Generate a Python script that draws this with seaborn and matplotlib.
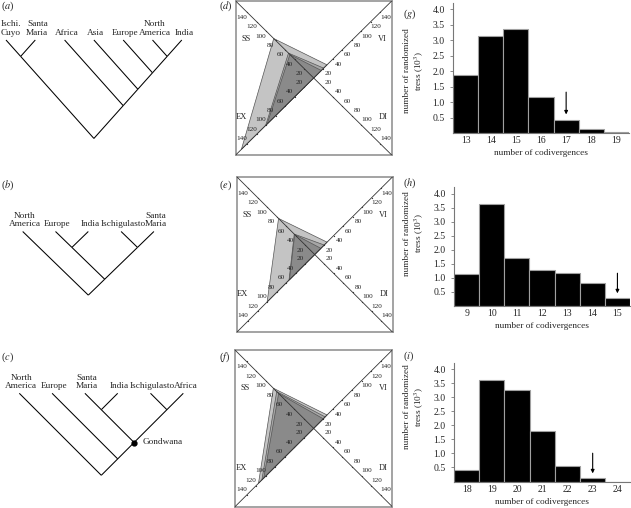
import numpy as np
import matplotlib
matplotlib.use('Agg')
import matplotlib.pyplot as plt
import seaborn as sns
import pandas as pd

# ---------------- data ----------------
tree_a_leaves = ['Ischi.\nCuyo', 'Santa\nMaria', 'Africa', 'Asia', 'Europe', 'North\nAmerica', 'India']
tree_a_topology = ((0, 1), (2, (3, (4, (5, 6)))))
tree_b_leaves = ['North\nAmerica', 'Europe', 'India', 'Ischigulasto', 'Santa\nMaria']
tree_b_topology = (0, ((1, 2), (3, 4)))
tree_c_leaves = ['North\nAmerica', 'Europe', 'Santa\nMaria', 'India', 'Ischigulasto', 'Africa']
tree_c_topology = (0, (1, ((2, 3), (4, 5))))
tree_c_marked = ((2, 3), (4, 5))
tree_c_mark_label = 'Gondwana'

# diamond polygons: values on axes SS, VI, DI, EX (light, medium, dark)
diamond_axes = ['SS', 'VI', 'DI', 'EX']
diamond_ticks = [20, 40, 60, 80, 100, 120, 140]
d_light = [84, 28, 0, 152]
d_mid = [53, 21, 0, 101]
d_dark = [50, 16, 0, 98]
e_light = [76, 26, 0, 100]
e_mid = [43, 20, 0, 54]
e_dark = [42, 13, 0, 53]
f_light = [84, 28, 0, 115]
f_mid = [77, 24, 0, 108]
f_dark = [73, 20, 0, 104]

g_cats = ['13', '14', '15', '16', '17', '18', '19']
g_vals = [1.88, 3.12, 3.36, 1.16, 0.42, 0.12, 0.02]
g_arrow = '17'
h_cats = ['9', '10', '11', '12', '13', '14', '15']
h_vals = [1.12, 3.63, 1.71, 1.28, 1.18, 0.80, 0.26]
h_arrow = '15'
i_cats = ['18', '19', '20', '21', '22', '23', '24']
i_vals = [0.40, 3.64, 3.25, 1.79, 0.54, 0.11, 0.0]
i_arrow = '23'
y_ticks = [0.5, 1.0, 1.5, 2.0, 2.5, 3.0, 3.5, 4.0]

# ---------------- style ----------------
sns.set_theme(style='white')
plt.rcParams['font.family'] = ['Liberation Serif', 'DejaVu Serif']
plt.rcParams['mathtext.fontset'] = 'stix'

W, H = 631, 508
fig = plt.figure(figsize=(W / 100, H / 100), dpi=100)


def px_axes(left, top, width, height, **kw):
    return fig.add_axes([left / W, 1 - (top + height) / H, width / W, height / H], **kw)


# overlay for trees and panel letters (pixel coordinates)
ov = px_axes(0, 0, W, H)
ov.set_xlim(0, W)
ov.set_ylim(H, 0)
ov.axis('off')

FS = 6.7


def draw_tree(leaves, topo, x0, step, tip_y, slope, label_dx=2.0, marked=None, mark_label=None):
    xs = [x0 + k * step for k in range(len(leaves))]

    def rec(node):
        if isinstance(node, int):
            return xs[node], tip_y, xs[node], xs[node]
        kids = [rec(c) for c in node]
        lo = min(k[2] for k in kids)
        hi = max(k[3] for k in kids)
        x = (lo + hi) / 2
        y = tip_y + (hi - lo) / 2 * slope
        for cx, cy, _, _ in kids:
            ov.plot([x, cx], [y, cy], color='black', lw=0.75, solid_capstyle='butt')
        if marked is not None and node == marked:
            ov.plot([x], [y], 'o', color='black', ms=3.5, zorder=5)
            ov.text(x + 9, y, mark_label, fontsize=FS, ha='left', va='center')
        return x, y, lo, hi

    rec(topo)
    for k, (lab, x) in enumerate(zip(leaves, xs)):
        dx = label_dx
        if x + dx < 11:
            dx = 11 - x
        ov.text(x + dx, tip_y - 3, lab, fontsize=FS, ha='center', va='bottom', linespacing=1.1)


draw_tree(tree_a_leaves, tree_a_topology, 6, 29.3, 40, 1.12)
draw_tree(tree_b_leaves, tree_b_topology, 22.7, 32.8, 231.5, 0.97)
draw_tree(tree_c_leaves, tree_c_topology, 19.3, 32.8, 393.3, 1.0,
          marked=tree_c_marked, mark_label=tree_c_mark_label)

# panel letters
for lab, x, y in [('a', 1, 6), ('b', 1, 185), ('c', 1, 357.5),
                  ('d', 219, 6), ('e', 219, 185), ('f', 219, 357.5),
                  ('g', 403, 14), ('h', 403, 183), ('i', 403, 356)]:
    ov.text(x, y, '($%s$)' % lab, fontsize=7.5, ha='left', va='center')


# ---------------- diamonds ----------------
def diamond(ax, polys):
    R = 164.0
    hh = R / np.sqrt(2)
    ax.set_xlim(-hh, hh)
    ax.set_ylim(-hh, hh)
    ax.set_xticks([])
    ax.set_yticks([])
    for s in ax.spines.values():
        s.set_color('#8a8a8a')
        s.set_linewidth(1.1)
    dirs = {'SS': (-1, 1), 'VI': (1, 1), 'DI': (1, -1), 'EX': (-1, -1)}
    colors = ['#c4c4c4', '#a6a6a6', '#8a8a8a']
    for vals, col in zip(polys, colors):
        px = [dirs[k][0] * v / np.sqrt(2) for k, v in zip(diamond_axes, vals)]
        py = [dirs[k][1] * v / np.sqrt(2) for k, v in zip(diamond_axes, vals)]
        ax.fill(px, py, facecolor=col, edgecolor='#555555', lw=0.5, zorder=2)
    ax.plot([-hh, hh], [-hh, hh], color='#333333', lw=0.6, zorder=3)
    ax.plot([-hh, hh], [hh, -hh], color='#333333', lw=0.6, zorder=3)
    off = 11
    for k in diamond_axes:
        dx, dy = dirs[k]
        for t in diamond_ticks:
            x = dx * t / np.sqrt(2)
            y = dy * t / np.sqrt(2)
            ax.plot([x], [y], 'o', color='#333333', ms=0.9, mew=0, zorder=4)
            ax.text(x + dx * off / np.sqrt(2), y - dy * off / np.sqrt(2), str(t),
                    fontsize=5.2, ha='center', va='center', zorder=5)
    ax.text(-101, 59, 'SS', fontsize=6.0, ha='center', va='center')
    ax.text(102, 59, 'VI', fontsize=6.0, ha='center', va='center')
    ax.text(-107, -59, 'EX', fontsize=6.0, ha='center', va='center')
    ax.text(103, -59, 'DI', fontsize=6.0, ha='center', va='center')


diamond(px_axes(235.7, 1.0, 156, 154), [d_light, d_mid, d_dark])
diamond(px_axes(236.7, 176.7, 156, 155.6), [e_light, e_mid, e_dark])
diamond(px_axes(235.0, 350.0, 157.3, 156.7), [f_light, f_mid, f_dark])


# ---------------- histograms ----------------
def hist(ax, cats, vals, arrow_cat, ymax, ylab_y):
    df = pd.DataFrame({'cat': cats, 'val': vals})
    sns.barplot(data=df, x='cat', y='val', color='black', saturation=1, width=1.0,
                edgecolor='#a0a0a0', linewidth=0.8, ax=ax)
    ax.set_xlim(-0.5, len(cats) - 0.5)
    ax.set_ylim(0, ymax)
    ax.set_yticks(y_ticks)
    ax.set_yticklabels(['%.1f' % t for t in y_ticks])
    sns.despine(ax=ax)
    for s in ['left', 'bottom']:
        ax.spines[s].set_color('#777777')
        ax.spines[s].set_linewidth(0.8)
    ax.tick_params(axis='y', length=2.5, width=0.6, color='#777777', pad=3.5, labelsize=7.0, left=True)
    ax.tick_params(axis='x', length=0, pad=2.5, labelsize=7.0)
    ax.set_xlabel('number of codivergences', fontsize=FS)
    ax.set_ylabel('number of randomized\ntress (10$^3$)', fontsize=FS, linespacing=1.2)
    bb = ax.get_position()
    ax.xaxis.set_label_coords(0.5, -16.0 / (bb.height * H))
    ax.yaxis.set_label_coords((426 - bb.x0 * W) / (bb.width * W), ylab_y)
    ax.grid(False)
    idx = cats.index(arrow_cat)
    v = vals[idx]
    ax.annotate('', xy=(idx, v + 0.18), xytext=(idx, v + 0.9),
                arrowprops=dict(arrowstyle='-|>', color='black', lw=0.8,
                                mutation_scale=5, shrinkA=0, shrinkB=0))


hist(px_axes(453, 3, 176, 130), g_cats, g_vals, g_arrow, 4.2, 0.478)
hist(px_axes(454, 187, 176, 118.6), h_cats, h_vals, h_arrow, 4.25, 0.61)
hist(px_axes(454, 363.3, 176.5, 118.2), i_cats, i_vals, i_arrow, 4.22, 0.63)

fig.savefig('out.png', dpi=100, facecolor='white')
